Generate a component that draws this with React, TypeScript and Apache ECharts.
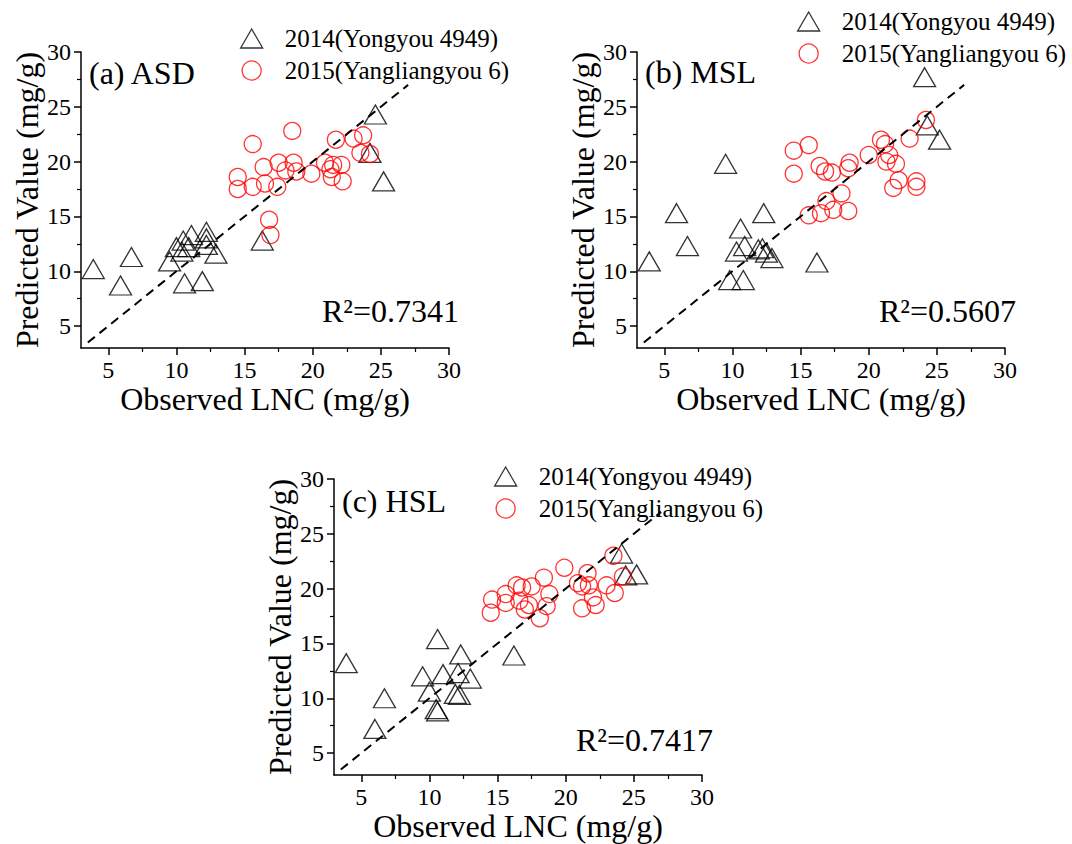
import React, { useEffect, useRef } from "react";
import * as echarts from "echarts";

const FONT = "Liberation Serif";

const seriesNames = ["2014(Yongyou 4949)", "2015(Yangliangyou 6)"];
const panelLabels = ["(a) ASD", "(b) MSL", "(c) HSL"];
const r2Labels = ["R²=0.7341", "R²=0.5607", "R²=0.7417"];
const xTitle = "Observed LNC (mg/g)";
const yTitle = "Predicted Value (mg/g)";
const majorTicks = [5, 10, 15, 20, 25, 30];
const axisMin = 3;
const axisMax = 30;
const diagLine = [3.5, 27];

// Panel (a) ASD
const aTriX = [3.9, 5.9, 6.7, 9.5, 10.0, 10.4, 10.5, 10.6, 10.9, 11.1, 11.9, 12.2, 12.2, 12.2, 12.9, 16.3, 24.6, 24.2, 25.2];
const aTriY = [10.2, 8.7, 11.3, 10.9, 12.2, 11.8, 12.8, 8.9, 12.2, 13.3, 9.1, 13.6, 13.0, 12.4, 11.6, 12.8, 24.3, 20.8, 18.2];
const aCirX = [14.5, 14.5, 15.6, 15.6, 16.4, 16.5, 16.8, 16.9, 17.4, 17.5, 18.0, 18.5, 18.6, 18.8, 19.9, 20.9, 21.3, 21.4, 21.5, 21.7, 22.1, 22.2, 23.0, 23.7, 23.5, 24.2];
const aCirY = [18.6, 17.5, 21.6, 17.7, 19.5, 18.0, 14.7, 13.3, 17.7, 19.9, 19.2, 22.8, 19.9, 19.1, 18.9, 19.9, 19.3, 18.6, 19.7, 22.0, 19.7, 18.2, 22.1, 22.4, 20.8, 20.7];

// Panel (b) MSL
const bTriX = [3.9, 5.9, 6.7, 9.5, 9.8, 10.3, 10.6, 10.8, 10.9, 11.9, 12.2, 12.3, 12.5, 12.9, 16.2, 24.1, 24.3, 25.2];
const bTriY = [10.9, 15.3, 12.3, 19.8, 9.2, 11.8, 13.9, 9.2, 12.3, 12.0, 12.1, 15.3, 11.7, 11.2, 10.8, 27.7, 23.3, 22.0];
const bCirX = [14.5, 15.6, 14.5, 16.4, 16.8, 17.3, 18.6, 18.5, 20.0, 20.9, 21.2, 21.5, 21.3, 22.0, 22.2, 21.8, 23.0, 23.5, 23.5, 24.2, 15.6, 16.5, 16.9, 17.4, 18.0, 18.5];
const bCirY = [21.0, 21.5, 18.9, 19.6, 19.1, 19.0, 19.9, 19.4, 20.6, 22.0, 21.6, 20.6, 20.0, 19.8, 18.3, 17.6, 22.1, 18.2, 17.7, 23.8, 15.1, 15.3, 16.4, 15.6, 17.1, 15.5];

// Panel (c) HSL
const cTriX = [3.9, 6.0, 6.7, 9.5, 10.0, 10.5, 10.6, 10.6, 11.0, 11.9, 12.1, 12.2, 12.3, 13.0, 16.2, 24.1, 24.4, 25.2];
const cTriY = [13.2, 7.2, 10.0, 12.0, 10.6, 9.0, 15.4, 8.8, 12.2, 10.4, 12.3, 10.3, 14.0, 11.8, 13.9, 23.2, 21.2, 21.3];
const cCirX = [14.5, 14.6, 15.6, 15.6, 16.4, 16.6, 16.8, 17.0, 17.3, 17.5, 18.1, 18.4, 18.6, 18.8, 19.9, 20.9, 21.2, 21.6, 21.7, 21.2, 22.0, 22.2, 23.0, 23.5, 23.6, 24.2];
const cCirY = [17.8, 19.0, 18.7, 19.5, 20.3, 18.9, 20.1, 18.1, 18.5, 20.2, 17.3, 21.0, 18.4, 19.5, 21.9, 20.5, 20.2, 21.4, 20.3, 18.2, 19.2, 18.5, 20.3, 23.0, 19.6, 21.1];

const panels = [
  { triX: aTriX, triY: aTriY, cirX: aCirX, cirY: aCirY },
  { triX: bTriX, triY: bTriY, cirX: bCirX, cirY: bCirY },
  { triX: cTriX, triY: cTriY, cirX: cCirX, cirY: cCirY },
];

// layout (pixels)
const grids = [
  { left: 81, top: 52, width: 368, height: 296 },
  { left: 637, top: 52, width: 368, height: 296 },
  { left: 334, top: 479, width: 368, height: 296 },
];
const legendPos = [
  { left: 240, top: 26 },
  { left: 797, top: 9 },
  { left: 494, top: 464 },
];
const labelPos = [
  { x: 89, y: 73 },
  { x: 645, y: 72 },
  { x: 342, y: 501 },
];
const r2Pos = [
  { x: 322, y: 311 },
  { x: 879, y: 311 },
  { x: 576, y: 740 },
];

const zip = (xs: number[], ys: number[]) => xs.map((x, i) => [x, ys[i]]);

export default function App() {
  const ref = useRef<HTMLDivElement>(null);
  useEffect(() => {
    if (!ref.current) return;
    const chart = echarts.init(ref.current, null, { renderer: "svg" });

    const axisCommon = (gridIndex: number) => ({
      gridIndex,
      type: "value",
      min: axisMin,
      max: axisMax,
      axisLine: { show: true, onZero: false, lineStyle: { color: "#000", width: 1.5 } },
      axisTick: {
        show: true,
        inside: false,
        length: 7,
        customValues: majorTicks,
        lineStyle: { color: "#000", width: 1.5 },
      },
      minorTick: { show: true, splitNumber: 2, length: 4, lineStyle: { color: "#000", width: 1.2 } },
      splitLine: { show: false },
      axisLabel: {
        customValues: majorTicks,
        formatter: (v: number) => (v % 5 === 0 ? String(v) : ""),
        fontSize: 24,
        fontFamily: FONT,
        color: "#000",
        margin: 10,
      },
      nameLocation: "middle",
      nameTextStyle: { fontSize: 32, fontFamily: FONT, color: "#000" },
    });

    const xAxis = grids.map((_, i) => ({ ...axisCommon(i), name: xTitle, nameGap: 34 }));
    const yAxis = grids.map((_, i) => ({ ...axisCommon(i), name: yTitle, nameGap: 38 }));

    const series: any[] = [];
    panels.forEach((p, i) => {
      series.push({
        name: seriesNames[0],
        type: "scatter",
        xAxisIndex: i,
        yAxisIndex: i,
        symbol: "triangle",
        symbolSize: [22, 19],
        itemStyle: { color: "transparent", borderColor: "#000", borderWidth: 1.3 },
        data: zip(p.triX, p.triY),
        z: 2,
      });
      series.push({
        name: seriesNames[1],
        type: "scatter",
        xAxisIndex: i,
        yAxisIndex: i,
        symbol: "circle",
        symbolSize: 17,
        itemStyle: { color: "transparent", borderColor: "#ff0000", borderWidth: 1.3 },
        data: zip(p.cirX, p.cirY),
        z: 2,
      });
      series.push({
        name: "1:1",
        type: "line",
        xAxisIndex: i,
        yAxisIndex: i,
        symbol: "none",
        lineStyle: { color: "#000", width: 2, type: [9, 6] },
        data: [
          [diagLine[0], diagLine[0]],
          [diagLine[1], diagLine[1]],
        ],
        z: 3,
        silent: true,
      });
    });

    const legend = legendPos.map((pos) => ({
      orient: "vertical",
      left: pos.left,
      top: pos.top,
      padding: 0,
      itemWidth: 22,
      itemHeight: 19,
      itemGap: 7,
      selectedMode: false,
      textStyle: { fontSize: 25, fontFamily: FONT, color: "#000", padding: [0, 0, 0, 17] },
      data: [
        {
          name: seriesNames[0],
          icon: "triangle",
          itemStyle: { color: "transparent", borderColor: "#000", borderWidth: 1.3 },
        },
        {
          name: seriesNames[1],
          icon: "circle",
          itemStyle: { color: "transparent", borderColor: "#ff0000", borderWidth: 1.3 },
        },
      ],
    }));

    const graphic: any[] = [];
    panelLabels.forEach((t, i) => {
      graphic.push({
        type: "text",
        x: labelPos[i].x,
        y: labelPos[i].y,
        style: {
          text: t,
          font: `32px "${FONT}"`,
          fill: "#000",
          align: "left",
          verticalAlign: "middle",
        },
      });
    });
    r2Labels.forEach((t, i) => {
      graphic.push({
        type: "text",
        x: r2Pos[i].x,
        y: r2Pos[i].y,
        style: {
          text: t,
          font: `32px "${FONT}"`,
          fill: "#000",
          align: "left",
          verticalAlign: "middle",
        },
      });
    });

    chart.setOption({
      animation: false,
      backgroundColor: "#fff",
      grid: grids,
      xAxis,
      yAxis,
      legend,
      series,
      graphic,
    });
    return () => chart.dispose();
  }, []);

  return (
    <div
      ref={ref}
      style={{ position: "fixed", left: 0, top: 0, width: 1072, height: 844, background: "#fff" }}
    />
  );
}
